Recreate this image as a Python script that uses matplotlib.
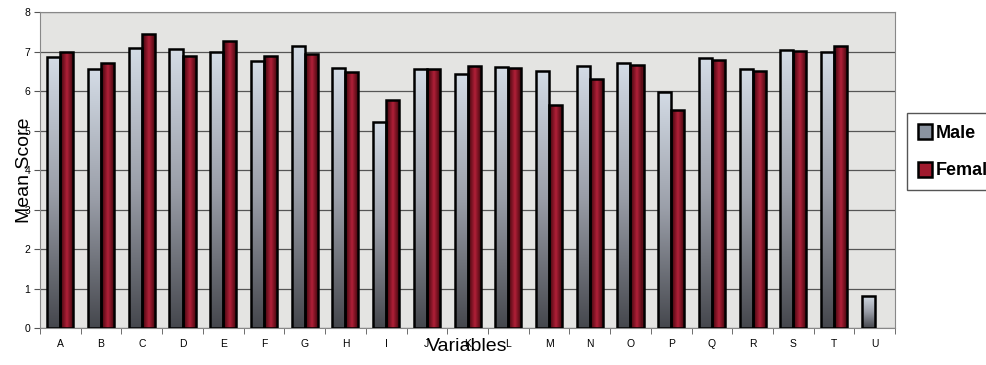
import numpy as np
import matplotlib.pyplot as plt
from matplotlib.colors import LinearSegmentedColormap

plt.rcParams['font.family'] = ['Liberation Sans', 'DejaVu Sans']

# values
variables = ['A', 'B', 'C', 'D', 'E', 'F', 'G', 'H', 'I', 'J', 'K',
             'L', 'M', 'N', 'O', 'P', 'Q', 'R', 'S', 'T', 'U']
male = [6.87, 6.55, 7.10, 7.07, 7.00, 6.77, 7.15, 6.58, 5.22, 6.56, 6.43,
        6.60, 6.52, 6.64, 6.70, 5.98, 6.83, 6.56, 7.04, 7.00, 0.81]
female = [6.98, 6.70, 7.45, 6.88, 7.27, 6.88, 6.94, 6.48, 5.77, 6.55, 6.63,
          6.58, 5.64, 6.30, 6.66, 5.52, 6.79, 6.51, 7.01, 7.14, np.nan]

fig = plt.figure(figsize=(9.87, 3.65), dpi=100)
ax = fig.add_axes([0.0405, 0.101, 0.8665, 0.866])
ax.set_facecolor('#e4e4e2')

x = np.arange(len(variables))
w = 0.32
mbars = ax.bar(x - w/2, male, w, color='#aab0bc', edgecolor='black', linewidth=1.8,
               label='Male', zorder=3)
fbars = ax.bar(x + w/2, female, w, color='#a01a2e', edgecolor='black', linewidth=1.8,
               label='Female', zorder=3)

silver = LinearSegmentedColormap.from_list('silver', ['#45474d', '#9a9ea8', '#d4dce6'])
maroon = LinearSegmentedColormap.from_list('maroon', ['#4a0810', '#b01f38'])

# gradient fills clipped to each bar
grad = np.linspace(1, 0, 256).reshape(-1, 1)
for b in mbars:
    if not np.isfinite(b.get_height()):
        continue
    bx, by = b.get_x(), b.get_y()
    im = ax.imshow(grad, cmap=silver, vmin=0, vmax=1, aspect='auto',
                   extent=[bx, bx + b.get_width(), by, by + b.get_height()], zorder=3.5)
    im.set_clip_path(b)
for b in fbars:
    if not np.isfinite(b.get_height()):
        continue
    bx, by = b.get_x(), b.get_y()
    im = ax.imshow(np.array([[0.2, 1.0, 0.2]]), cmap=maroon, vmin=0, vmax=1, aspect='auto',
                   interpolation='bilinear',
                   extent=[bx, bx + b.get_width(), by, by + b.get_height()], zorder=3.5)
    im.set_clip_path(b)
# outlines on top
for b in list(mbars) + list(fbars):
    b.set_zorder(4)
    b.set_facecolor('none')

ax.set_xlim(-0.5, len(variables) - 0.5)
ax.set_ylim(0, 8)
ax.set_yticks(range(9))
ax.set_xticks(x)
ax.set_xticklabels(variables, fontsize=7.5)
ax.set_xticks(np.arange(-0.5, len(variables), 1), minor=True)
ax.tick_params(axis='x', which='major', length=0, pad=8)
ax.tick_params(axis='x', which='minor', length=4, color='#555555')
ax.tick_params(axis='y', labelsize=7.5, length=4, color='#555555', pad=3)
ax.grid(axis='y', color='#555555', linewidth=0.9, zorder=1)
for s in ax.spines.values():
    s.set_color('#888888')
    s.set_linewidth(0.8)

ax.set_ylabel('Mean Score', fontsize=14, labelpad=-6)
ax.set_xlabel('Variables', fontsize=14, labelpad=-8)

leg = fig.legend(handles=[mbars, fbars], labels=['Male', 'Female'],
                 loc='upper left', bbox_to_anchor=(0.919, 0.69),
                 fancybox=False, edgecolor='#555555', framealpha=1,
                 prop={'weight': 'bold', 'size': 13}, handlelength=0.8,
                 handleheight=0.9, handletextpad=0.2, labelspacing=1.1,
                 borderpad=0.6, borderaxespad=0)
for h, c in zip(leg.legend_handles, ['#8a93a0', '#a01a2e']):
    h.set_facecolor(c)
    h.set_edgecolor('black')

plt.savefig('out.png', dpi=100)
